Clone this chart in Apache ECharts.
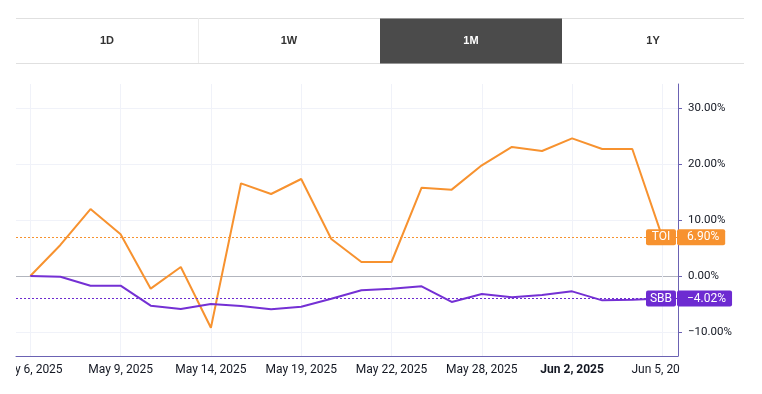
<!DOCTYPE html>
<html>
<head>
<meta charset="utf-8">
<script src="https://cdn.jsdelivr.net/npm/echarts@6/dist/echarts.min.js"></script>
<style>
html,body{margin:0;padding:0;background:#fff;}
#c{width:762px;height:394px;}
</style>
</head>
<body>
<div id="c"></div>
<script>
// ---- data ----
var dates = ['May 6, 2025','May 7, 2025','May 8, 2025','May 9, 2025','May 12, 2025','May 13, 2025','May 14, 2025','May 15, 2025','May 16, 2025','May 19, 2025','May 20, 2025','May 21, 2025','May 22, 2025','May 23, 2025','May 27, 2025','May 28, 2025','May 29, 2025','May 30, 2025','Jun 2, 2025','Jun 3, 2025','Jun 4, 2025','Jun 5, 2025'];
var toiValues = [0, 5.54, 11.96, 7.44, -2.26, 1.6, -9.23, 16.55, 14.64, 17.32, 6.6, 2.5, 2.5, 15.77, 15.42, 19.76, 23.04, 22.32, 24.58, 22.68, 22.68, 6.90];
var sbbValues = [0, -0.12, -1.73, -1.73, -5.3, -5.9, -5.0, -5.36, -5.95, -5.48, -4.05, -2.56, -2.26, -1.85, -4.64, -3.21, -3.81, -3.39, -2.74, -4.35, -4.23, -4.02];
var xTickIndices = [0, 3, 6, 9, 12, 15, 18, 21];
var boldTickIndices = [18];
var yTicks = [-10, 0, 10, 20, 30];
var tabs = ['1D', '1W', '1M', '1Y'];
var activeTab = '1M';

var ORANGE = '#f7922f';
var PURPLE = '#7430d4';
var BADGE_PURPLE = '#6d2bd1';
var AXIS = '#6b62b3';
var GRID = '#f0f2f9';

function pairs(arr){ return arr.map(function(v,i){ return [i, v]; }); }
function pct(v){ return (v < 0 ? '\u2212' : '') + Math.abs(v).toFixed(2) + '%'; }

function badge(name, value, color){
  return {
    symbol: 'none',
    silent: true,
    animation: false,
    data: [{ yAxis: value }],
    lineStyle: { type: [2, 2], color: color, width: 1 },
    label: {
      show: true,
      position: 'end',
      distance: -32,
      formatter: '{n|' + name + '}{g|}{v|' + pct(value) + '}',
      rich: {
        n: { backgroundColor: color, color: '#fff', fontSize: 12, lineHeight: 12, fontFamily: 'Roboto', width: 26, align: 'center', padding: [2, 2, 2, 2], borderRadius: 2 },
        g: { width: 1 },
        v: { backgroundColor: color, color: '#fff', fontSize: 12, lineHeight: 12, fontFamily: 'Roboto', padding: [2, 6, 2, 10], borderRadius: 2 }
      }
    }
  };
}

var chart = echarts.init(document.getElementById('c'), null, { renderer: 'canvas' });

var graphics = [];
// tab bar
var tabLeft = 16, tabRight = 744, tabTop = 18, tabBottom = 63;
var tabW = (tabRight - tabLeft) / tabs.length;
tabs.forEach(function(t, i){
  var x0 = tabLeft + i * tabW;
  if (t === activeTab) {
    graphics.push({ type: 'rect', shape: { x: x0, y: tabTop + 0.5, width: tabW, height: tabBottom - tabTop }, style: { fill: '#4b4b4b' }, z: 10 });
  }
  graphics.push({ type: 'text', x: x0 + tabW / 2, y: (tabTop + tabBottom) / 2 + 0.5, style: { text: t, fill: t === activeTab ? '#ffffff' : '#333333', font: 'bold 11px "Liberation Sans", Arial, sans-serif', align: 'center', verticalAlign: 'middle' }, z: 11 });
});
graphics.push({ type: 'line', shape: { x1: tabLeft, y1: tabTop + 0.5, x2: tabRight, y2: tabTop + 0.5 }, style: { stroke: '#e0e0e0', lineWidth: 1 }, z: 9 });
graphics.push({ type: 'line', shape: { x1: tabLeft, y1: tabBottom + 0.5, x2: tabRight, y2: tabBottom + 0.5 }, style: { stroke: '#e0e0e0', lineWidth: 1 }, z: 9 });
graphics.push({ type: 'line', shape: { x1: tabLeft + tabW + 0.5, y1: tabTop, x2: tabLeft + tabW + 0.5, y2: tabBottom }, style: { stroke: '#ececec', lineWidth: 1 }, z: 9 });
// clip x-axis labels to plot width
graphics.push({ type: 'rect', shape: { x: 0, y: 358, width: 16, height: 36 }, style: { fill: '#fff' }, z: 100 });
graphics.push({ type: 'rect', shape: { x: 680, y: 358, width: 82, height: 36 }, style: { fill: '#fff' }, z: 100 });

var option = {
  animation: false,
  backgroundColor: '#ffffff',
  grid: { left: 16, right: 84, top: 84, bottom: 38, containLabel: false, outerBoundsMode: 'none' },
  xAxis: {
    type: 'value',
    min: -0.475,
    max: 21.518,
    axisLine: { show: true, onZero: false, lineStyle: { color: AXIS, width: 1 } },
    axisTick: { show: false, customValues: xTickIndices },
    splitLine: { show: true, lineStyle: { color: GRID, width: 1 } },
    axisLabel: {
      customValues: xTickIndices,
      margin: 8,
      color: '#131722',
      fontSize: 12,
      fontFamily: 'Roboto',
      formatter: function(v){
        var d = dates[Math.round(v)] || '';
        return boldTickIndices.indexOf(Math.round(v)) >= 0 ? '{b|' + d + '}' : d;
      },
      rich: { b: { fontWeight: 'bold', fontSize: 12, fontFamily: 'Roboto', color: '#131722' } }
    }
  },
  yAxis: {
    type: 'value',
    position: 'right',
    min: -14.2857,
    max: 34.2857,
    axisLine: { show: true, onZero: false, lineStyle: { color: AXIS, width: 1 } },
    axisTick: { show: true, length: 4, customValues: yTicks, lineStyle: { color: AXIS } },
    splitLine: { show: true, lineStyle: { color: [GRID, '#b2b5be', GRID, GRID, GRID], width: 1 } },
    axisLabel: {
      customValues: yTicks,
      margin: 10,
      color: '#131722',
      fontSize: 11.5,
      fontFamily: 'Roboto',
      formatter: function(v){ return pct(v); }
    }
  },
  series: [
    {
      name: 'TOI', type: 'line', data: pairs(toiValues), symbol: 'none',
      lineStyle: { color: ORANGE, width: 2 }, itemStyle: { color: ORANGE }, z: 3,
      markLine: badge('TOI', toiValues[toiValues.length - 1], ORANGE)
    },
    {
      name: 'SBB', type: 'line', data: pairs(sbbValues), symbol: 'none',
      lineStyle: { color: PURPLE, width: 2 }, itemStyle: { color: PURPLE }, z: 4,
      markLine: badge('SBB', sbbValues[sbbValues.length - 1], BADGE_PURPLE)
    }
  ],
  graphic: graphics
};
chart.setOption(option);
</script>
</body>
</html>
